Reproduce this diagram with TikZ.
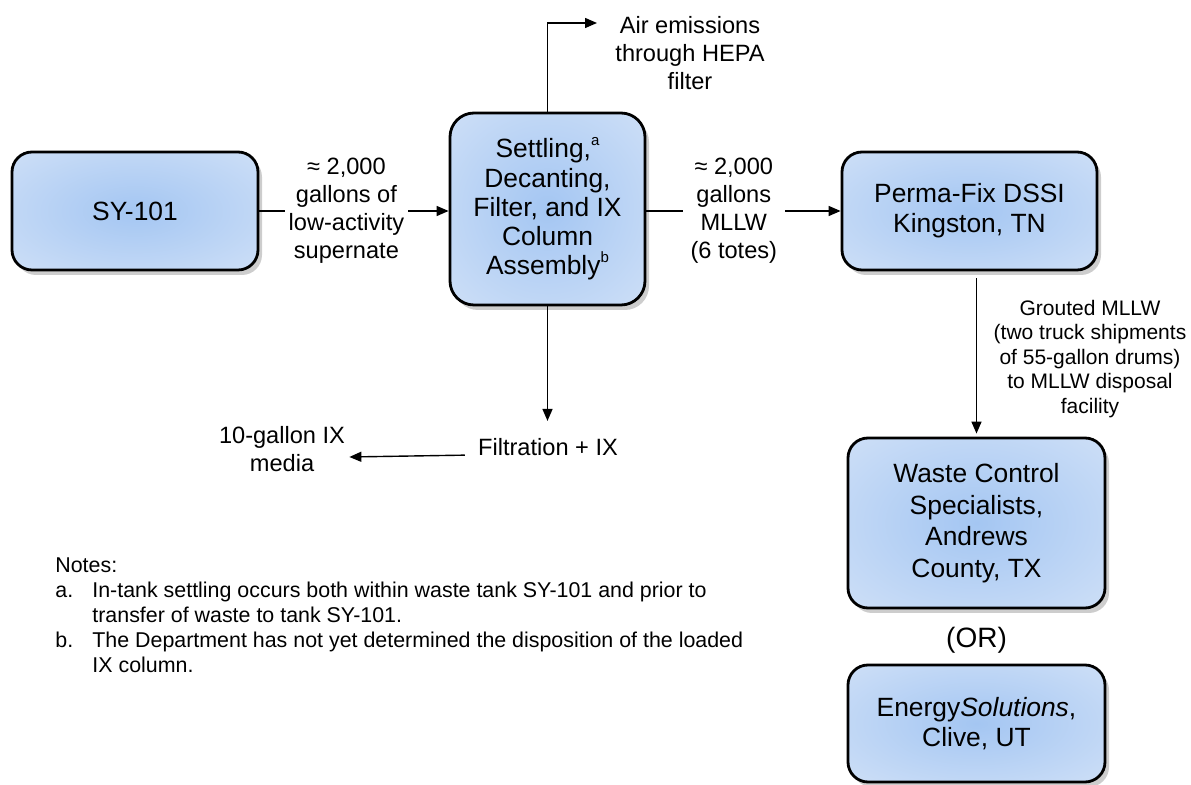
\documentclass[tikz,border=0pt]{standalone}
\usepackage{fontspec}
\setmainfont{Liberation Sans}
\usetikzlibrary{arrows.meta, shadows}

\definecolor{glowcentre}{RGB}{164,198,242}
\definecolor{glowedge}{RGB}{222,233,249}
\pgfdeclareradialshading{boxglow}{\pgfpoint{0bp}{0bp}}{color(0bp)=(glowcentre); color(50bp)=(glowedge); color(60bp)=(glowedge)}

\newcommand{\noteref}[1]{\raisebox{0.45em}{\fontsize{7.5}{7.5}\selectfont #1}}

\tikzset{
    facility/.style={draw=black, line width=1.4pt, rounded corners=10pt,
        shade, shading=boxglow,
        drop shadow={shadow xshift=2pt, shadow yshift=-2.5pt, fill=black!70, opacity=0.28},
        align=center, inner sep=0pt, font=\fontsize{13.2}{15}\selectfont},
    flowlabel/.style={align=center, inner sep=2pt, font=\fontsize{11.8}{14}\selectfont},
    smalllabel/.style={align=center, inner sep=0pt, font=\fontsize{10.5}{12.25}\selectfont},
    notes/.style={inner sep=0pt, font=\fontsize{10.7}{12.5}\selectfont},
    flow/.style={line width=0.7pt, -{Triangle[length=6pt,width=5pt]}}
}

\begin{document}
\begin{tikzpicture}[x=0.5pt, y=-0.5pt]
    \useasboundingbox (0,0) rectangle (1191,785);

    % boxes
    \node[facility, minimum width=123pt, minimum height=59pt] (sy101) at (135,211) {SY-101};
    \node[facility, rounded corners=12pt, minimum width=97.5pt, minimum height=96pt,
        font=\fontsize{13.2}{14.6}\selectfont] (settle) at (547.5,209)
        {Settling,\noteref{a}\\Decanting,\\Filter, and IX\\Column\\Assembly\noteref{b}};
    \node[facility, minimum width=127.5pt, minimum height=59pt] (perma) at (969.5,211)
        {Perma-Fix DSSI\\Kingston, TN};
    \node[facility, minimum width=128.5pt, minimum height=85pt,
        font=\fontsize{13.2}{15.8}\selectfont] (waste) at (976.5,523)
        {Waste Control\\Specialists,\\Andrews\\County, TX};
    \node[font=\fontsize{14}{16}\selectfont] (or) at (976.5,640) {(OR)};
    \node[facility, minimum width=128.5pt, minimum height=58.5pt] (energy) at (976.5,723.5)
        {Energy\textit{Solutions},\\Clive, UT};

    % free labels
    \node[flowlabel] (air) at (690,53) {Air emissions\\through HEPA\\filter};
    \coordinate (airtip) at (597,23);
    \node[flowlabel] (filt) at (548,447) {Filtration + IX};
    \node[flowlabel] (media) at (282,449) {10-gallon IX\\media};
    \node[smalllabel] (grouted) at (1090,359)
        {Grouted MLLW\\(two truck shipments\\of 55-gallon drums)\\to MLLW disposal\\facility};

    % flows
    \draw[flow] (sy101.east) -- node[flowlabel, fill=white, pos=0.46] (supernate)
        {≈ 2,000\\gallons of\\low-activity\\supernate} (sy101.east -| settle.west);
    \draw[flow] (settle.east |- perma.west) -- node[flowlabel, fill=white, inner sep=4pt, pos=0.45] (totes)
        {≈ 2,000\\gallons\\MLLW\\(6 totes)} (perma.west);
    \draw[flow] (settle.north) |- (airtip);
    \draw[flow, shorten >=6.5pt] (settle.south) -- (settle.south |- filt.north);
    \draw[flow, shorten <=4.5pt] ([yshift=-4pt]filt.west) -- ([yshift=-4pt]media.east);
    \draw[flow, shorten <=3.5pt, shorten >=1.5pt] (perma.south -| waste.north) -- (waste.north);

    % notes
    \node[notes, anchor=north west] (notelist) at (55,555) {%
        \begin{tabular}{@{}p{18.5pt}@{}l@{}}
            \multicolumn{2}{@{}l@{}}{Notes:}\\
            a. & In-tank settling occurs both within waste tank SY-101 and prior to\\
               & transfer of waste to tank SY-101.\\
            b. & The Department has not yet determined the disposition of the loaded\\
               & IX column.
        \end{tabular}};
\end{tikzpicture}
\end{document}
